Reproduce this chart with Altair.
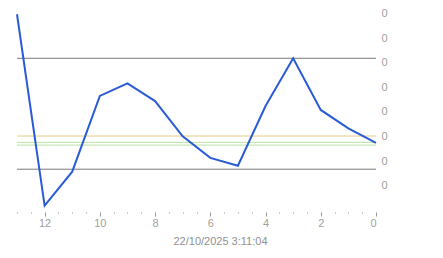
import altair as alt
import pandas as pd

# data
xs = [13, 12, 11, 10, 9, 8, 7, 6, 5, 4, 3, 2, 1, 0]
ys = [0.0797, 0.0019, 0.0157, 0.0465, 0.0516, 0.0444, 0.0301, 0.0213,
      0.0181, 0.0424, 0.0618, 0.0408, 0.0333, 0.0274]

ref_vals = [0.0618, 0.0167, 0.0302, 0.0276, 0.0265]
ref_names = ["hi", "lo", "mean", "g1", "g2"]
ref_colors = ["#7a7a7a", "#7a7a7a", "#e8cc82", "#b9e2a4", "#b9e2a4"]

y_ticks = [0.01, 0.02, 0.03, 0.04, 0.05, 0.06, 0.07, 0.08]
x_ticks = [i / 2 for i in range(0, 27)]

df = pd.DataFrame({"x": xs, "y": ys})
refs = pd.DataFrame({"v": ref_vals, "name": ref_names, "c": ref_colors})

FONT = "Liberation Sans"

xscale = alt.Scale(domain=[0, 13], reverse=True, nice=False, zero=False)
yscale = alt.Scale(domain=[-0.0007, 0.0855], nice=False, zero=False)

yaxis = alt.Axis(
    orient="right",
    values=y_ticks,
    format=".0f",
    grid=False,
    domain=False,
    ticks=False,
    labelFont=FONT,
    labelFontSize=11,
    labelColor="#a0a0a0",
    labelPadding=5,
)

rules = alt.Chart(refs).mark_rule(strokeWidth=1).encode(
    y=alt.Y("v:Q", scale=yscale, title=None, axis=yaxis),
    color=alt.Color("c:N", scale=None, legend=None),
)

line = alt.Chart(df).mark_line(color="#2a5bd7", strokeWidth=2).encode(
    x=alt.X(
        "x:Q",
        scale=xscale,
        title="22/10/2025 3:11:04",
        axis=alt.Axis(
            values=x_ticks,
            grid=False,
            domain=False,
            tickColor="#999999",
            tickSize={"condition": {"test": "datum.value % 2 == 0", "value": 4}, "value": 1},
            labelExpr="datum.value % 2 == 0 ? format(datum.value, 'd') : ''",
            labelOverlap=False,
            labelFont=FONT,
            labelFontSize=11,
            labelColor="#a0a0a0",
            labelPadding=1,
            titleFont=FONT,
            titleFontSize=11,
            titleFontWeight="normal",
            titleColor="#909090",
            titleX=203,
            titleY=29,
            titleBaseline="middle",
        ),
    ),
    y=alt.Y("y:Q", scale=yscale, title=None, axis=yaxis),
)

chart = (
    alt.layer(rules, line)
    .properties(
        width=359,
        height=212,
        autosize=alt.AutoSizeParams(type="none"),
        padding={"left": 17, "top": 0, "right": 67, "bottom": 46},
        background="white",
    )
    .configure_view(strokeWidth=0)
)

chart.save("out.html", embed_options={"renderer": "svg", "actions": False})
